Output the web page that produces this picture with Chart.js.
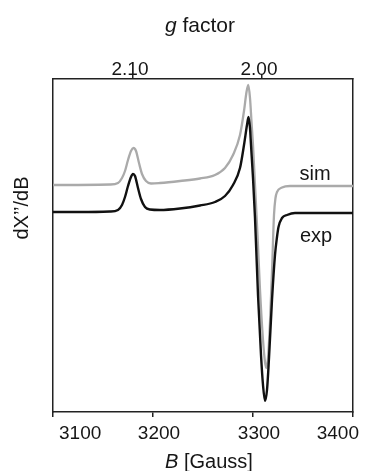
<!DOCTYPE html>
<html><head><meta charset="utf-8">
<script src="https://cdn.jsdelivr.net/npm/chart.js@4/dist/chart.umd.min.js"></script>
<style>html,body{margin:0;padding:0;background:#fff}canvas{display:block}</style>
</head><body>
<canvas id="c" width="368" height="471"></canvas>
<script>
// ---- data (magnetic field in Gauss, signal in arbitrary units) ----
const expField  = [3100,3127,3157,3165,3169,3172,3175,3178,3180,3182,3185,3188,3192,3197,3207,3227,3247,3262,3272,3280,3287,3291,3294,3295.5,3297,3298,3300,3302,3305,3308,3310,3312,3314,3316,3319,3322,3324,3325.5,3329,3334,3342,3400];
const expSignal = [0,0,0.5,2,7,15,26,35,38,36,24,13,5,2.5,2,3.5,6.5,10,16,27,44,67,87,95,84,67,34,-6,-83,-143,-173,-189,-178,-146,-88,-43,-25,-15,-6,-3,-1,-1];
const simField  = [3100,3157,3165,3169,3172,3175,3178,3180.5,3183,3186,3189,3193,3198,3207,3227,3247,3262,3272,3280,3287,3291,3293.5,3295.3,3297,3298.7,3300,3302,3304.5,3307,3310,3312,3313.5,3315,3317,3319,3321,3322.5,3324,3329,3337,3400];
const simSignal = [27,27.5,29,34,41,52,61,64,61,49,38,31,28.5,29,31,33.5,37,44,57,77,101,120,127,114,87,67,27,-23,-78,-128,-150,-156,-146,-110,-60,-3,14,20,24.5,26,26];
const fieldTicks  = [3100,3200,3300,3400];
const gTickLabels = ['2.10','2.00'];
const gTickField  = [3180,3309];
const seriesNames = ['exp','sim'];

const FONT = "'Liberation Sans', Arial, Helvetica, sans-serif";
const TXT = '#161616';
const AX = '#222';

const expData = expField.map((x,i)=>({x, y: expSignal[i]}));
const simData = simField.map((x,i)=>({x, y: simSignal[i]}));

function drawMixed(ctx, parts, cx, y, size){
  let w = 0;
  const m = parts.map(([t,st])=>{ ctx.font = st+' '+size+'px '+FONT; const tw = ctx.measureText(t).width; w += tw; return tw; });
  let x = cx - w/2;
  ctx.textAlign = 'left'; ctx.textBaseline = 'alphabetic';
  parts.forEach(([t,st],i)=>{ ctx.font = st+' '+size+'px '+FONT; ctx.fillText(t, x, y); x += m[i]; });
}

const annot = {
  id: 'annot',
  afterDraw(chart){
    const {ctx, scales} = chart;
    ctx.save();
    ctx.fillStyle = TXT;
    drawMixed(ctx, [['g','italic'],[' factor','normal']], 200, 32, 21);
    drawMixed(ctx, [['B','italic'],[' [Gauss]','normal']], 209, 468, 20);
    ctx.save();
    ctx.translate(28, 208);
    ctx.rotate(-Math.PI/2);
    ctx.font = '20px '+FONT;
    ctx.textAlign = 'center'; ctx.textBaseline = 'alphabetic';
    ctx.fillText('dX\u2019\u2019/dB', 0, 0);
    ctx.restore();
    ctx.font = '20px '+FONT;
    ctx.textAlign = 'center'; ctx.textBaseline = 'alphabetic';
    const xs = scales.x, ys = scales.y;
    ctx.fillText(seriesNames[1], xs.getPixelForValue(3362), ys.getPixelForValue(32));
    ctx.fillText(seriesNames[0], xs.getPixelForValue(3363), ys.getPixelForValue(-30));
    ctx.restore();
  }
};

function gridOpts(){ return {display: true, drawOnChartArea: false, drawTicks: true, tickLength: 5, tickColor: AX, tickWidth: 1.5, color: AX, lineWidth: 1.5}; }

new Chart(document.getElementById('c'), {
  type: 'line',
  data: {
    datasets: [
      {label: seriesNames[0], data: expData, borderColor: '#111', borderWidth: 2.4, pointRadius: 0, cubicInterpolationMode: 'monotone', fill: false},
      {label: seriesNames[1], data: simData, borderColor: '#aaaaaa', borderWidth: 2.3, pointRadius: 0, cubicInterpolationMode: 'monotone', fill: false}
    ]
  },
  options: {
    responsive: false,
    animation: false,
    events: [],
    layout: {padding: 0},
    plugins: {legend: {display: false}, tooltip: {enabled: false}, title: {display: false}},
    scales: {
      x: {
        type: 'linear', position: 'bottom', min: 3100, max: 3400,
        afterBuildTicks: s => { s.ticks = fieldTicks.map(v=>({value:v})); },
        afterFit: s => { s.height = 59; s.paddingLeft = 0; s.paddingRight = 0; },
        grid: gridOpts(),
        border: {display: true, color: AX, width: 1.5},
        ticks: {align: 'inner', labelOffset: 6, padding: 5, color: TXT, font: {family: FONT, size: 19}, maxRotation: 0, autoSkip: false,
          callback: (v, i) => String(fieldTicks[i])},
        title: {display: false}
      },
      x2: {
        type: 'linear', position: 'top', min: 3100, max: 3400,
        afterBuildTicks: s => { s.ticks = gTickField.map(v=>({value:v})); },
        afterFit: s => { s.height = 79; s.paddingLeft = 0; s.paddingRight = 0; },
        grid: gridOpts(),
        border: {display: true, color: AX, width: 1.5},
        ticks: {labelOffset: -3, padding: -7, color: TXT, font: {family: FONT, size: 19}, maxRotation: 0, autoSkip: false,
          callback: (v, i) => gTickLabels[i]}
      },
      y: {
        type: 'linear', position: 'left', min: -200, max: 133,
        afterFit: s => { s.width = 53; s.paddingTop = 0; s.paddingBottom = 0; },
        grid: {display: false},
        border: {display: true, color: AX, width: 1.5},
        ticks: {display: false}
      },
      y2: {
        type: 'linear', position: 'right', min: -200, max: 133,
        afterFit: s => { s.width = 15; s.paddingTop = 0; s.paddingBottom = 0; },
        grid: {display: false},
        border: {display: true, color: AX, width: 1.5},
        ticks: {display: false}
      }
    }
  },
  plugins: [annot]
});
</script>
</body></html>
